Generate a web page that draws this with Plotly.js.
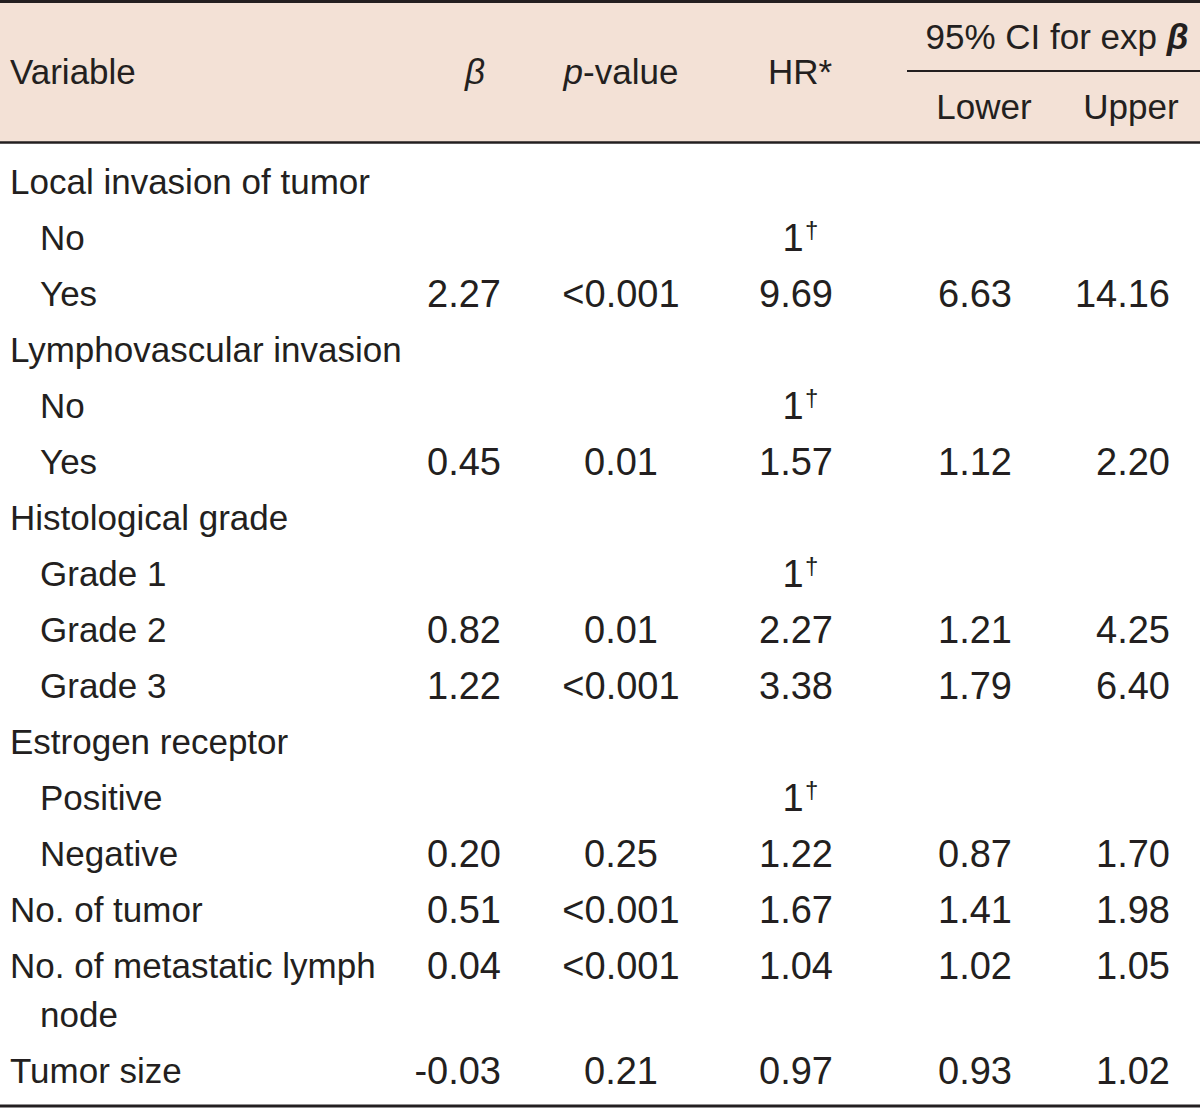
<!DOCTYPE html>
<html>
<head>
<meta charset="utf-8">
<script src="https://cdn.plot.ly/plotly-3.0.1.min.js"></script>
<style>html,body{margin:0;padding:0;background:#fff;}#chart{width:1200px;height:1109px;}</style>
</head>
<body>
<div id="chart"></div>
<script>
// ---- data ----
const variables = ["Local invasion of tumor","No","Yes","Lymphovascular invasion","No","Yes","Histological grade","Grade 1","Grade 2","Grade 3","Estrogen receptor","Positive","Negative","No. of tumor","No. of metastatic lymph\nnode","Tumor size"];
const isSubItem = [false,true,true,false,true,true,false,true,true,true,false,true,true,false,false,false];
const beta    = ["","","2.27","","","0.45","","","0.82","1.22","","","0.20","0.51","0.04","-0.03"];
const pValue  = ["","","<0.001","","","0.01","","","0.01","<0.001","","","0.25","<0.001","<0.001","0.21"];
const hr      = ["","1†","9.69","","1†","1.57","","1†","2.27","3.38","","1†","1.22","1.67","1.04","0.97"];
const ciLower = ["","","6.63","","","1.12","","","1.21","1.79","","","0.87","1.41","1.02","0.93"];
const ciUpper = ["","","14.16","","","2.20","","","4.25","6.40","","","1.70","1.98","1.05","1.02"];
const headerLabels = ["Variable","<i>β</i>","<i>p</i>-value","HR*","95% CI for exp <b><i>β</i></b>","Lower","Upper"];

// ---- layout constants ----
const W = 1200, H = 1109;
const FONT = "'Liberation Sans Narrow', 'Arial Narrow', 'Liberation Sans', Arial, sans-serif";
const FS_LABEL = 35, FS_NUM = 38, FS_HEAD = 35, FS_MARK = 24;
const TXT = "#231f20";
const YSHIFT = 3;
const firstRowY = 182, rowStep = 56, wrapStep = 49;
const xVar = 10, xSub = 40;

// row y positions
const rowY = [];
const contLines = [];
let y = firstRowY + YSHIFT;
variables.forEach((v) => {
  rowY.push(y);
  const parts = v.split("\n");
  for (let k = 1; k < parts.length; k++) contLines.push({text: parts[k], y: y + wrapStep * k});
  y += rowStep + wrapStep * (parts.length - 1);
});

function textTrace(xs, ys, texts, pos, fs) {
  const keep = texts.map((t, i) => t !== "" ? i : -1).filter(i => i >= 0);
  return {type: "scatter", mode: "text",
    x: keep.map(i => xs[i]), y: keep.map(i => ys[i]), text: keep.map(i => texts[i]),
    textposition: pos, textfont: {family: FONT, size: fs, color: TXT},
    hoverinfo: "skip", showlegend: false, cliponaxis: false};
}

// split HR reference marks (†) from the values
const hrBase = hr.map(s => s.replace("†", ""));
const hrMark = hr.map(s => s.includes("†") ? "†" : "");
const hrX = hr.map(s => s.includes("†") ? 793 : 796);

const labelFirst = variables.map(v => v.split("\n")[0]);
const traces = [];
traces.push(textTrace(labelFirst.map((v,i)=>isSubItem[i]?xSub:xVar), rowY, labelFirst, "middle right", FS_LABEL));
traces.push(textTrace(contLines.map(()=>xSub), contLines.map(c=>c.y), contLines.map(c=>c.text), "middle right", FS_LABEL));
traces.push(textTrace(beta.map(()=>501), rowY, beta, "middle left", FS_NUM));
traces.push(textTrace(pValue.map(()=>621), rowY, pValue, "middle center", FS_NUM));
traces.push(textTrace(hrX, rowY, hrBase, "middle center", FS_NUM));
traces.push(textTrace(hrMark.map(()=>805), rowY.map(v=>v-9), hrMark, "middle right", FS_MARK));
traces.push(textTrace(ciLower.map(()=>1012), rowY, ciLower, "middle left", FS_NUM));
traces.push(textTrace(ciUpper.map(()=>1170), rowY, ciUpper, "middle left", FS_NUM));

// header
const hx = [xVar, 475, 621, 800, 1057, 984, 1131];
const hy = [72, 72, 72, 72, 37, 107, 107].map(v => v + YSHIFT);
const hpos = ["middle right","middle center","middle center","middle center","middle center","middle center","middle center"];
headerLabels.forEach((t,i)=>traces.push(textTrace([hx[i]],[hy[i]],[t],hpos[i], FS_HEAD)));

const layout = {
  width: W, height: H,
  margin: {l:0, r:0, t:0, b:0},
  paper_bgcolor: "#ffffff", plot_bgcolor: "#ffffff",
  xaxis: {range:[0, W], visible:false, fixedrange:true},
  yaxis: {range:[H, 0], visible:false, fixedrange:true},
  shapes: [
    {type:"rect", xref:"x", yref:"y", x0:0, x1:W, y0:2, y1:142, fillcolor:"#f3e1d6", line:{width:0}, layer:"below"},
    {type:"line", xref:"x", yref:"y", x0:0, x1:W, y0:1.5, y1:1.5, line:{color:TXT, width:3}},
    {type:"line", xref:"x", yref:"y", x0:0, x1:W, y0:142.5, y1:142.5, line:{color:TXT, width:2.5}},
    {type:"line", xref:"x", yref:"y", x0:907, x1:W, y0:71, y1:71, line:{color:TXT, width:2}},
    {type:"line", xref:"x", yref:"y", x0:0, x1:W, y0:1106, y1:1106, line:{color:TXT, width:3}}
  ]
};

Plotly.newPlot("chart", traces, layout, {staticPlot:true, displayModeBar:false});
</script>
</body>
</html>
